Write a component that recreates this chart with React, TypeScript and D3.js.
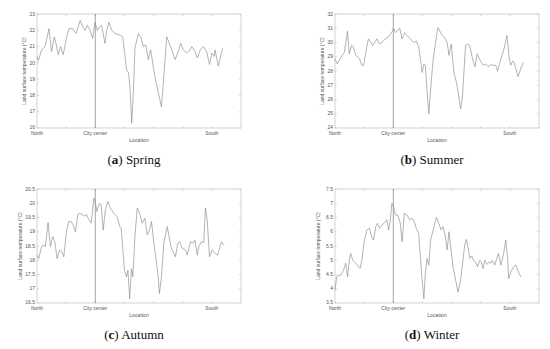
import React from "react";
import * as d3 from "d3";

// location along the transect: 0 = North, 2 = City center, 6 = South
const springLoc = [0, 0.05, 0.16, 0.27, 0.33, 0.41, 0.5, 0.59, 0.65, 0.73, 0.81, 0.9, 1.02, 1.1, 1.22, 1.34, 1.48, 1.57, 1.65, 1.73, 1.82, 1.91, 1.99, 2.07, 2.14, 2.22, 2.33, 2.39, 2.47, 2.56, 2.68, 2.85, 2.94, 3.02, 3.08, 3.14, 3.19, 3.25, 3.31, 3.36, 3.48, 3.56, 3.65, 3.73, 3.82, 3.9, 3.97, 4.05, 4.16, 4.27, 4.34, 4.45, 4.54, 4.62, 4.74, 4.85, 4.93, 5.02, 5.14, 5.25, 5.31, 5.42, 5.5, 5.6, 5.71, 5.82, 5.92, 6.0, 6.08, 6.11, 6.22, 6.37];
const springTemp = [20.4, 20.15, 20.8, 21.0, 21.4, 22.1, 20.7, 21.6, 21.2, 20.5, 21.0, 20.5, 21.6, 22.1, 22.1, 21.8, 22.6, 22.2, 22.0, 22.3, 22.0, 21.5, 22.5, 22.0, 22.2, 22.3, 21.2, 22.0, 22.5, 22.0, 21.8, 21.7, 21.6, 20.4, 19.5, 19.4, 18.5, 16.3, 18.3, 20.9, 21.8, 21.6, 21.0, 21.1, 20.2, 20.8, 20.0, 19.1, 18.2, 17.3, 18.9, 21.6, 21.2, 20.8, 20.2, 20.7, 21.2, 20.8, 20.6, 20.8, 21.0, 20.7, 20.3, 20.8, 21.0, 20.7, 19.9, 20.6, 20.4, 20.8, 19.8, 20.9];

const summerLoc = [0, 0.08, 0.17, 0.25, 0.32, 0.43, 0.49, 0.57, 0.63, 0.71, 0.84, 0.92, 0.98, 1.09, 1.15, 1.21, 1.29, 1.44, 1.52, 1.61, 1.72, 1.84, 1.97, 2.01, 2.07, 2.13, 2.22, 2.3, 2.39, 2.47, 2.59, 2.7, 2.79, 2.87, 2.93, 2.99, 3.05, 3.1, 3.16, 3.22, 3.3, 3.37, 3.45, 3.53, 3.68, 3.76, 3.85, 3.91, 3.99, 4.08, 4.19, 4.31, 4.37, 4.48, 4.54, 4.62, 4.71, 4.8, 4.88, 4.99, 5.09, 5.17, 5.25, 5.35, 5.45, 5.52, 5.58, 5.69, 5.8, 5.9, 5.98, 6.03, 6.1, 6.15, 6.24, 6.28, 6.38, 6.47];
const summerTemp = [28.85, 28.5, 28.85, 29.1, 29.3, 30.8, 29.2, 29.8, 29.7, 29.1, 28.85, 28.4, 28.4, 29.7, 30.25, 30.1, 29.8, 30.25, 29.9, 30.0, 30.25, 30.4, 30.8, 31.0, 30.7, 30.8, 31.0, 30.25, 30.7, 30.5, 30.25, 30.0, 30.1, 29.7, 28.85, 27.9, 28.5, 28.4, 26.5, 25.0, 27.2, 28.85, 30.0, 31.05, 30.5, 30.35, 30.0, 29.1, 29.9, 27.9, 27.0, 25.35, 26.1, 29.8, 29.9, 29.8, 28.95, 28.3, 29.2, 28.7, 28.4, 28.5, 28.3, 28.45, 28.4, 28.4, 28.0, 28.85, 29.55, 30.5, 28.85, 28.4, 28.7, 28.6, 27.9, 27.6, 28.2, 28.6];

const autumnLoc = [0, 0.06, 0.14, 0.21, 0.29, 0.38, 0.46, 0.54, 0.61, 0.69, 0.77, 0.85, 0.92, 1.01, 1.09, 1.17, 1.24, 1.32, 1.4, 1.47, 1.55, 1.63, 1.7, 1.78, 1.86, 1.95, 2.0, 2.06, 2.14, 2.2, 2.27, 2.35, 2.43, 2.52, 2.63, 2.75, 2.84, 2.89, 2.94, 3.0, 3.07, 3.12, 3.18, 3.24, 3.29, 3.36, 3.44, 3.52, 3.61, 3.7, 3.78, 3.86, 3.93, 4.01, 4.09, 4.16, 4.2, 4.27, 4.35, 4.47, 4.52, 4.61, 4.7, 4.75, 4.83, 4.9, 4.98, 5.1, 5.15, 5.27, 5.35, 5.42, 5.5, 5.55, 5.64, 5.72, 5.78, 5.84, 5.92, 6.01, 6.1, 6.19, 6.26, 6.33, 6.41];
const autumnTemp = [18.18, 18.06, 18.42, 18.54, 18.48, 19.32, 18.48, 18.83, 18.65, 18.06, 18.36, 18.3, 18.12, 19.0, 19.36, 19.36, 19.24, 19.0, 19.6, 19.65, 19.6, 19.55, 19.6, 19.42, 19.3, 20.18, 20.05, 19.71, 20.0, 19.95, 19.06, 19.77, 20.06, 19.83, 19.65, 19.53, 19.18, 19.12, 18.48, 17.65, 17.42, 17.65, 16.65, 17.7, 17.42, 18.83, 19.83, 19.65, 19.3, 19.47, 18.89, 19.06, 19.36, 18.6, 18.0, 17.41, 16.83, 17.41, 18.6, 19.18, 18.89, 18.42, 18.24, 18.12, 18.6, 18.65, 18.42, 18.36, 18.18, 18.65, 18.6, 18.71, 18.18, 18.47, 18.65, 18.62, 19.83, 19.41, 18.12, 18.36, 18.25, 18.18, 18.4, 18.65, 18.53];

const winterLoc = [0, 0.06, 0.11, 0.17, 0.23, 0.29, 0.37, 0.43, 0.49, 0.54, 0.61, 0.66, 0.72, 0.79, 0.86, 0.92, 1.0, 1.09, 1.18, 1.26, 1.32, 1.4, 1.46, 1.53, 1.61, 1.69, 1.78, 1.84, 1.9, 1.95, 2.01, 2.07, 2.15, 2.24, 2.3, 2.38, 2.47, 2.56, 2.64, 2.72, 2.79, 2.87, 2.93, 2.99, 3.05, 3.1, 3.16, 3.22, 3.28, 3.37, 3.48, 3.56, 3.64, 3.71, 3.79, 3.85, 3.91, 3.97, 4.05, 4.14, 4.22, 4.31, 4.39, 4.45, 4.51, 4.56, 4.63, 4.69, 4.75, 4.82, 4.89, 4.97, 5.02, 5.08, 5.14, 5.21, 5.29, 5.35, 5.4, 5.48, 5.55, 5.61, 5.69, 5.78, 5.86, 5.92, 5.96, 6.03, 6.13, 6.21, 6.29, 6.38];
const winterTemp = [3.95, 4.42, 4.48, 4.45, 4.54, 4.65, 4.89, 4.42, 5.0, 5.24, 5.0, 4.95, 4.89, 4.8, 4.71, 5.0, 5.65, 6.06, 6.12, 5.83, 5.71, 6.18, 6.3, 6.12, 6.24, 6.3, 6.42, 6.06, 6.42, 7.0, 6.89, 6.59, 6.59, 6.3, 5.65, 6.65, 6.59, 6.42, 6.48, 6.36, 6.12, 5.95, 5.12, 4.3, 3.65, 4.54, 5.06, 4.83, 5.71, 6.06, 6.51, 6.3, 6.06, 6.18, 5.83, 5.36, 6.0, 5.47, 4.77, 4.3, 3.88, 4.3, 5.0, 5.53, 5.73, 5.47, 5.06, 5.15, 5.0, 4.95, 4.77, 5.0, 4.95, 4.71, 5.0, 4.85, 4.94, 4.9, 5.0, 4.83, 5.06, 5.24, 4.83, 5.2, 5.71, 5.12, 4.35, 4.59, 4.77, 4.83, 4.59, 4.41];

const locTicks = [0, 1, 2, 3, 4, 5, 6, 7];
const locNames: Record<number, string> = { 0: "North", 2: "City center", 6: "South" };
const cityCenter = 2;

const panels = [
  { tag: "a", season: "Spring", loc: springLoc, temp: springTemp, yDomain: [16, 23], col: 0, row: 0 },
  { tag: "b", season: "Summer", loc: summerLoc, temp: summerTemp, yDomain: [24, 32], col: 1, row: 0 },
  { tag: "c", season: "Autumn", loc: autumnLoc, temp: autumnTemp, yDomain: [16.5, 20.5], col: 0, row: 1 },
  { tag: "d", season: "Winter", loc: winterLoc, temp: winterTemp, yDomain: [3.5, 7.5], col: 1, row: 1 },
];

const W = 550;
const H = 349;
const plotW = 204;
const plotH = 114;
const colX = [37, 335];
const rowY = [14, 189];
const axisFont = "Liberation Sans, Arial, sans-serif";

function Panel({ p }: { p: (typeof panels)[number] }) {
  const left = colX[p.col];
  const top = rowY[p.row];
  const x = d3.scaleLinear().domain([0, 7]).range([left, left + plotW]);
  const y = d3.scaleLinear().domain(p.yDomain).range([top + plotH, top]);
  const yTicks = y.ticks(8);
  const fmt = d3.format("~g");
  const hasHalf = yTicks.some((t) => t % 1 !== 0);
  const pts = p.loc.map((l, i) => [l, p.temp[i]] as [number, number]);
  const line = d3.line<[number, number]>().x((d) => x(d[0])).y((d) => y(d[1]));
  const tk = 2;
  return (
    <g>
      <rect x={left} y={top} width={plotW} height={plotH} fill="#fff" stroke="#b4b4b4" strokeWidth={0.6} />
      {locTicks.slice(1, -1).map((t) => (
        <g key={"xt" + t} stroke="#b4b4b4" strokeWidth={0.5}>
          <line x1={x(t)} x2={x(t)} y1={top + plotH} y2={top + plotH - tk} />
          <line x1={x(t)} x2={x(t)} y1={top} y2={top + tk} />
        </g>
      ))}
      {yTicks.map((t, i) => (
        <g key={"yt" + t}>
          <line x1={left} x2={left + tk} y1={y(t)} y2={y(t)} stroke="#b4b4b4" strokeWidth={0.5} />
          <line x1={left + plotW} x2={left + plotW - tk} y1={y(t)} y2={y(t)} stroke="#b4b4b4" strokeWidth={0.5} />
          <text x={left - 2} y={y(t) + (i === 0 ? 0.8 : 1.7)} fontSize={5} textAnchor="end" fill="#555" fontFamily={axisFont}>
            {fmt(t)}
          </text>
        </g>
      ))}
      <line x1={x(cityCenter)} x2={x(cityCenter)} y1={top} y2={top + plotH} stroke="#666" strokeWidth={0.6} />
      <path d={line(pts) ?? ""} fill="none" stroke="#8a8a8a" strokeWidth={0.65} strokeLinejoin="round" />
      {Object.entries(locNames).map(([k, name]) => (
        <text key={name} x={x(+k)} y={top + plotH + 7} fontSize={5} textAnchor="middle" fill="#555" fontFamily={axisFont}>
          {name}
        </text>
      ))}
      <text x={left + plotW / 2} y={top + plotH + 13.5} fontSize={5.2} textAnchor="middle" fill="#555" fontFamily={axisFont}>
        Location
      </text>
      <text
        transform={`translate(${left - (hasHalf ? 15 : 11)},${top + plotH / 2}) rotate(-90)`}
        fontSize={5}
        textAnchor="middle"
        fill="#555"
        fontFamily={axisFont}
      >
        Land surface temperature (°C)
      </text>
      <text
        x={left + plotW / 2 - 5}
        y={top + plotH + 36}
        fontSize={13}
        textAnchor="middle"
        fill="#111"
        fontFamily="Liberation Serif, serif"
      >
        (<tspan fontWeight="bold">{p.tag}</tspan>) {p.season}
      </text>
    </g>
  );
}

export default function App() {
  return (
    <svg width={W} height={H} style={{ position: "absolute", left: 0, top: 0, background: "#fff" }}>
      <rect width={W} height={H} fill="#fff" />
      {panels.map((p) => (
        <Panel key={p.tag} p={p} />
      ))}
    </svg>
  );
}
